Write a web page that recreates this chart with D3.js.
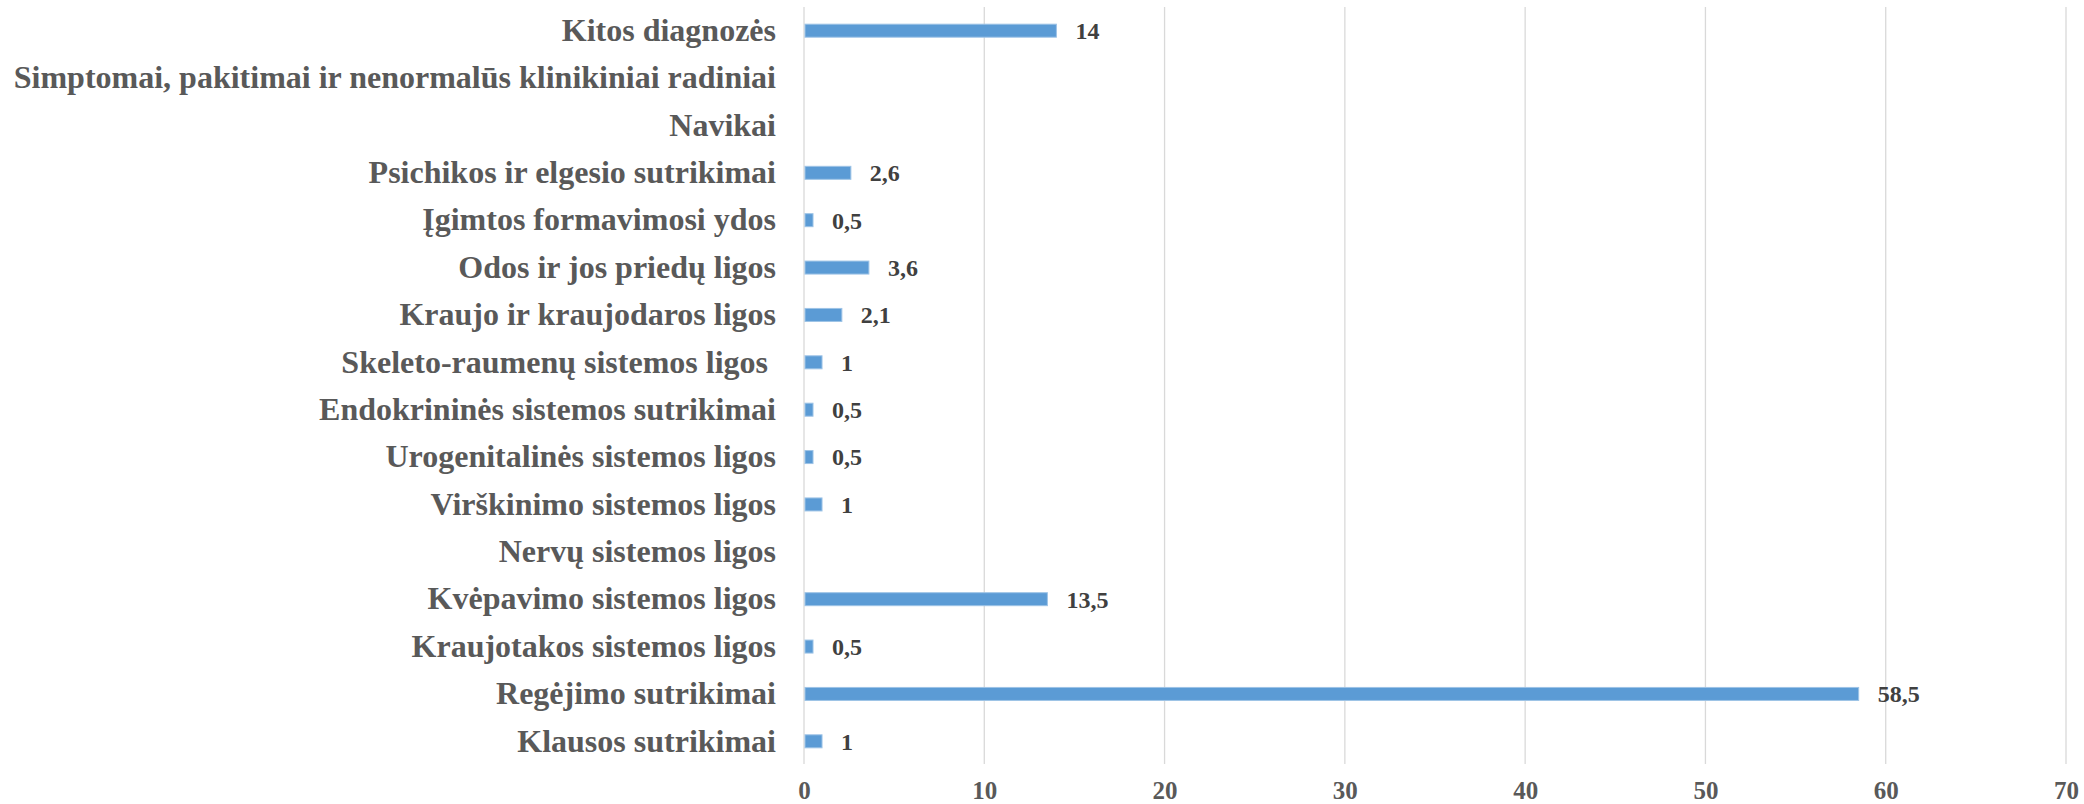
<!DOCTYPE html>
<html>
<head>
<meta charset="utf-8">
<script src="https://cdn.jsdelivr.net/npm/d3@7/dist/d3.min.js"></script>
<style>
html, body { margin: 0; padding: 0; background: #fff; }
svg text { white-space: pre; }
</style>
</head>
<body>
<svg id="chart" width="2084" height="804"></svg>
<script>
const categories = [
  "Kitos diagnozės",
  "Simptomai, pakitimai ir nenormalūs klinikiniai radiniai",
  "Navikai",
  "Psichikos ir elgesio sutrikimai",
  "Įgimtos formavimosi ydos",
  "Odos ir jos priedų ligos",
  "Kraujo ir kraujodaros ligos",
  "Skeleto-raumenų sistemos ligos ",
  "Endokrininės sistemos sutrikimai",
  "Urogenitalinės sistemos ligos",
  "Virškinimo sistemos ligos",
  "Nervų sistemos ligos",
  "Kvėpavimo sistemos ligos",
  "Kraujotakos sistemos ligos",
  "Regėjimo sutrikimai",
  "Klausos sutrikimai"
];
const values = [14, null, null, 2.6, 0.5, 3.6, 2.1, 1, 0.5, 0.5, 1, null, 13.5, 0.5, 58.5, 1];
const tickValues = [0, 10, 20, 30, 40, 50, 60, 70];

const svg = d3.select("#chart");
const pLeft = 804, pRight = 2066, pTop = 7, pBottom = 765;
const serif = "'Liberation Serif', 'Times New Roman', serif";

const x = d3.scaleLinear().domain([0, 70]).range([pLeft, pRight]);
const y = d3.scaleBand().domain(categories).range([pTop, pBottom]).paddingInner(0.72).paddingOuter(0.36);

// gridlines
svg.append("g").selectAll("line").data(tickValues).join("line")
  .attr("x1", d => x(d)).attr("x2", d => x(d))
  .attr("y1", pTop).attr("y2", pBottom - 1)
  .attr("stroke", "#d9d9d9").attr("stroke-width", 1.3);

// bars
const data = categories.map((c, i) => ({c, v: values[i]}));
svg.append("g").selectAll("rect").data(data.filter(d => d.v != null)).join("rect")
  .attr("x", x(0) + 1)
  .attr("y", d => y(d.c) + y.bandwidth() / 2 - 6.5)
  .attr("width", d => x(d.v) - x(0) - 1)
  .attr("height", 13)
  .attr("fill", "#5b9bd5")
  .attr("stroke", "#9dc3e6")
  .attr("stroke-width", 1);

// value labels
svg.append("g").selectAll("text").data(data.filter(d => d.v != null)).join("text")
  .attr("x", d => x(d.v) + 19)
  .attr("y", d => y(d.c) + y.bandwidth() / 2)
  .attr("dy", "0.35em")
  .attr("font-family", serif)
  .attr("font-weight", "bold")
  .attr("font-size", 24)
  .attr("fill", "#404040")
  .text(d => String(d.v).replace(".", ","));

// category labels
const yAxis = d3.axisLeft(y).tickSize(0).tickPadding(28);
const gy = svg.append("g").attr("transform", `translate(${pLeft},0)`).call(yAxis);
gy.select(".domain").remove();
gy.selectAll("text")
  .attr("font-family", serif)
  .attr("font-weight", "bold")
  .attr("font-size", 32)
  .attr("fill", "#595959");

// x axis
const xAxis = d3.axisBottom(x).tickValues(tickValues).tickSize(0).tickPadding(0).tickFormat(d3.format("d"));
const gx = svg.append("g").attr("transform", `translate(0,${pBottom})`).call(xAxis);
gx.select(".domain").remove();
gx.selectAll("text")
  .attr("y", 34)
  .attr("dy", null)
  .attr("font-family", serif)
  .attr("font-weight", "bold")
  .attr("font-size", 25)
  .attr("fill", "#595959");
</script>
</body>
</html>
